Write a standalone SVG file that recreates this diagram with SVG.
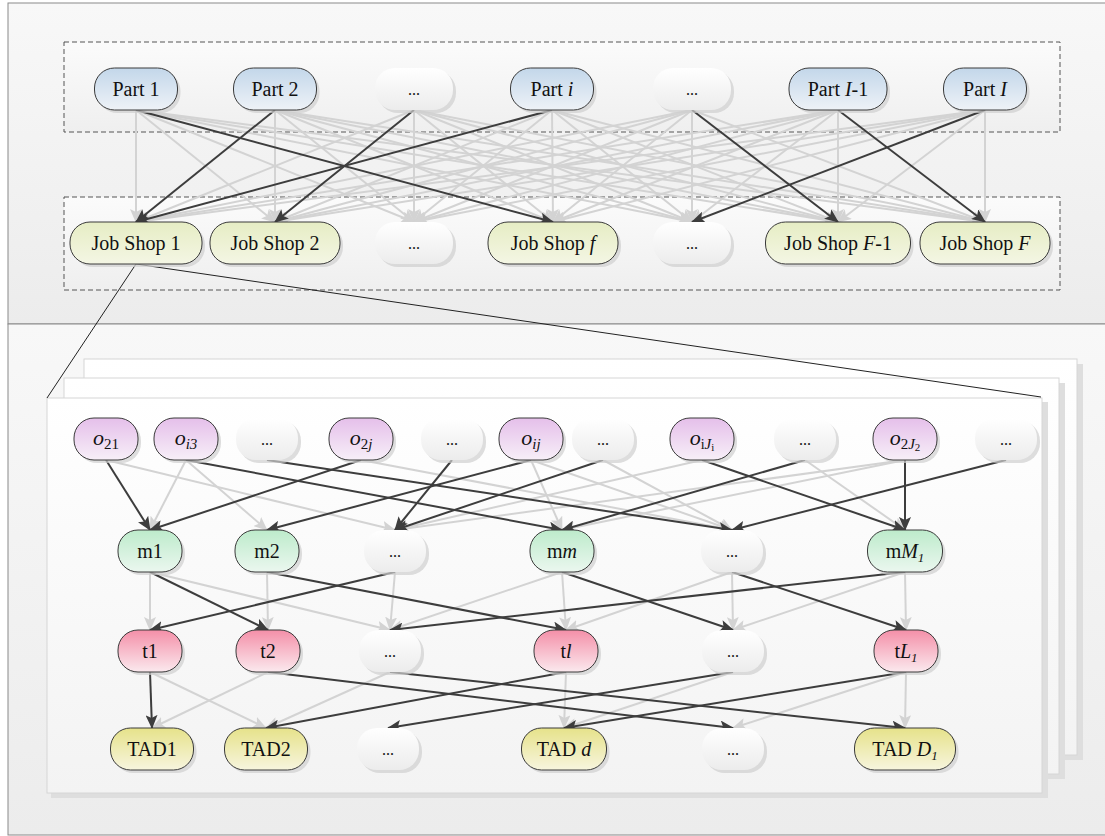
<svg xmlns="http://www.w3.org/2000/svg" width="1105" height="836" viewBox="0 0 1105 836">
<style>
text{font-family:"Liberation Serif","Times New Roman",serif;font-size:20px;fill:#111;text-anchor:middle}
.it{font-style:italic}
.dots{font-size:16px}
.sh{fill:#cfcfcf;opacity:.7}
.nb{stroke:#3a3a3a;stroke-width:1}
.part{fill:url(#gPart)}
.job{fill:url(#gJob)}
.op{fill:url(#gO)}
.mach{fill:url(#gM)}
.tool{fill:url(#gT)}
.tad{fill:url(#gTAD)}
.blank{fill:url(#gBlank)}
.g{stroke:#d3d3d3;stroke-width:2;fill:none;marker-end:url(#ahg)}
.d{stroke:#3d3d3d;stroke-width:2;fill:none;marker-end:url(#ahd)}
.dash{fill:url(#gBox);stroke:#555;stroke-width:1;stroke-dasharray:5 3}
.card{fill:url(#gCard);stroke:#d6d6d6;stroke-width:1}
.cardsh{fill:#dedede}
.zoom{stroke:#222;stroke-width:1;fill:none}
</style>
<defs>
<linearGradient id="gPart" x1="0" y1="0" x2="0" y2="1"><stop offset="0" stop-color="#c3d7ea"/><stop offset="1" stop-color="#eef2f7"/></linearGradient>
<linearGradient id="gJob" x1="0" y1="0" x2="0" y2="1"><stop offset="0" stop-color="#e6edc4"/><stop offset="1" stop-color="#f4f6e4"/></linearGradient>
<linearGradient id="gO" x1="0" y1="0" x2="0" y2="1"><stop offset="0" stop-color="#e5bfea"/><stop offset="1" stop-color="#f7eff8"/></linearGradient>
<linearGradient id="gM" x1="0" y1="0" x2="0" y2="1"><stop offset="0" stop-color="#bdebcb"/><stop offset="1" stop-color="#ebf7ef"/></linearGradient>
<linearGradient id="gT" x1="0" y1="0" x2="0" y2="1"><stop offset="0" stop-color="#f48fa8"/><stop offset="1" stop-color="#fbe9ee"/></linearGradient>
<linearGradient id="gTAD" x1="0" y1="0" x2="0" y2="1"><stop offset="0" stop-color="#e6e28a"/><stop offset="1" stop-color="#f7f5de"/></linearGradient>
<linearGradient id="gBlank" x1="0" y1="0" x2="0" y2="1"><stop offset="0" stop-color="#ffffff"/><stop offset="1" stop-color="#ececec"/></linearGradient>
<linearGradient id="gBox" x1="0" y1="0" x2="0" y2="1"><stop offset="0" stop-color="#fbfbfb"/><stop offset="1" stop-color="#efefef"/></linearGradient>
<linearGradient id="gPanel" x1="0" y1="0" x2="0" y2="1"><stop offset="0" stop-color="#f8f8f8"/><stop offset="1" stop-color="#ececec"/></linearGradient>
<linearGradient id="gCard" x1="0" y1="0" x2="0" y2="1"><stop offset="0" stop-color="#ffffff"/><stop offset="1" stop-color="#f3f3f3"/></linearGradient>
<marker id="ahd" viewBox="0 0 14 12" refX="13" refY="6" markerWidth="14" markerHeight="12" markerUnits="userSpaceOnUse" orient="auto"><path d="M0,0 L14,6 L0,12 L3,6 z" fill="#3d3d3d"/></marker>
<marker id="ahg" viewBox="0 0 14 12" refX="13" refY="6" markerWidth="14" markerHeight="12" markerUnits="userSpaceOnUse" orient="auto"><path d="M0,0 L14,6 L0,12 L3,6 z" fill="#d3d3d3"/></marker>
</defs>

<g id="panels">
<rect x="8" y="3" width="1110" height="321" fill="url(#gPanel)" stroke="#8a8a8a"/>
<rect x="8" y="324" width="1110" height="511" fill="url(#gPanel)" stroke="#8a8a8a"/>
<rect class="dash" x="64" y="42" width="996" height="90"/>
<rect class="dash" x="64" y="197" width="996" height="93"/>
</g>

<g id="cards">
<rect class="cardsh" x="89" y="364" width="994" height="396"/>
<rect class="card" x="84" y="359" width="993" height="396"/>
<rect class="cardsh" x="69" y="383" width="996" height="396"/>
<rect class="card" x="64" y="378" width="995" height="396"/>
<rect class="cardsh" x="51" y="402" width="997" height="396"/>
<rect class="card" x="47" y="398" width="995" height="395"/>
</g>

<g id="zoom-lines">
<line class="zoom" x1="136" y1="264" x2="47" y2="398"/>
<line class="zoom" x1="136" y1="264" x2="1041" y2="397"/>
</g>

<g id="connectors">
<!-- top: gray all-to-all -->
<line class="g" x1="136" y1="110" x2="136" y2="222"/>
<line class="g" x1="136" y1="110" x2="275" y2="222"/>
<line class="g" x1="136" y1="110" x2="414" y2="222"/>
<line class="g" x1="136" y1="110" x2="692" y2="222"/>
<line class="g" x1="136" y1="110" x2="838" y2="222"/>
<line class="g" x1="136" y1="110" x2="985" y2="222"/>
<line class="g" x1="275" y1="110" x2="275" y2="222"/>
<line class="g" x1="275" y1="110" x2="414" y2="222"/>
<line class="g" x1="275" y1="110" x2="553" y2="222"/>
<line class="g" x1="275" y1="110" x2="692" y2="222"/>
<line class="g" x1="275" y1="110" x2="838" y2="222"/>
<line class="g" x1="275" y1="110" x2="985" y2="222"/>
<line class="g" x1="414" y1="110" x2="136" y2="222"/>
<line class="g" x1="414" y1="110" x2="414" y2="222"/>
<line class="g" x1="414" y1="110" x2="553" y2="222"/>
<line class="g" x1="414" y1="110" x2="692" y2="222"/>
<line class="g" x1="414" y1="110" x2="838" y2="222"/>
<line class="g" x1="414" y1="110" x2="985" y2="222"/>
<line class="g" x1="552" y1="110" x2="275" y2="222"/>
<line class="g" x1="552" y1="110" x2="414" y2="222"/>
<line class="g" x1="552" y1="110" x2="553" y2="222"/>
<line class="g" x1="552" y1="110" x2="692" y2="222"/>
<line class="g" x1="552" y1="110" x2="838" y2="222"/>
<line class="g" x1="552" y1="110" x2="985" y2="222"/>
<line class="g" x1="692" y1="110" x2="136" y2="222"/>
<line class="g" x1="692" y1="110" x2="275" y2="222"/>
<line class="g" x1="692" y1="110" x2="414" y2="222"/>
<line class="g" x1="692" y1="110" x2="553" y2="222"/>
<line class="g" x1="692" y1="110" x2="692" y2="222"/>
<line class="g" x1="692" y1="110" x2="985" y2="222"/>
<line class="g" x1="838" y1="110" x2="136" y2="222"/>
<line class="g" x1="838" y1="110" x2="275" y2="222"/>
<line class="g" x1="838" y1="110" x2="414" y2="222"/>
<line class="g" x1="838" y1="110" x2="553" y2="222"/>
<line class="g" x1="838" y1="110" x2="692" y2="222"/>
<line class="g" x1="838" y1="110" x2="838" y2="222"/>
<line class="g" x1="985" y1="110" x2="136" y2="222"/>
<line class="g" x1="985" y1="110" x2="275" y2="222"/>
<line class="g" x1="985" y1="110" x2="414" y2="222"/>
<line class="g" x1="985" y1="110" x2="553" y2="222"/>
<line class="g" x1="985" y1="110" x2="838" y2="222"/>
<line class="g" x1="985" y1="110" x2="985" y2="222"/>
<!-- lower gray -->
<line class="g" x1="106" y1="460" x2="395" y2="530"/>
<line class="g" x1="186" y1="460" x2="150" y2="530"/>
<line class="g" x1="186" y1="460" x2="267" y2="530"/>
<line class="g" x1="361" y1="460" x2="732" y2="530"/>
<line class="g" x1="531" y1="460" x2="562" y2="530"/>
<line class="g" x1="531" y1="460" x2="732" y2="530"/>
<line class="g" x1="603" y1="460" x2="732" y2="530"/>
<line class="g" x1="702" y1="460" x2="395" y2="530"/>
<line class="g" x1="805" y1="460" x2="905" y2="530"/>
<line class="g" x1="905" y1="460" x2="395" y2="530"/>
<line class="g" x1="905" y1="460" x2="562" y2="530"/>
<line class="g" x1="150" y1="572" x2="150" y2="630"/>
<line class="g" x1="150" y1="572" x2="390" y2="630"/>
<line class="g" x1="267" y1="572" x2="268" y2="630"/>
<line class="g" x1="395" y1="572" x2="390" y2="630"/>
<line class="g" x1="562" y1="572" x2="566" y2="630"/>
<line class="g" x1="562" y1="572" x2="390" y2="630"/>
<line class="g" x1="732" y1="572" x2="733" y2="630"/>
<line class="g" x1="732" y1="572" x2="566" y2="630"/>
<line class="g" x1="905" y1="572" x2="906" y2="630"/>
<line class="g" x1="905" y1="572" x2="733" y2="630"/>
<line class="g" x1="150" y1="672" x2="266" y2="728"/>
<line class="g" x1="268" y1="672" x2="152" y2="728"/>
<line class="g" x1="390" y1="672" x2="266" y2="728"/>
<line class="g" x1="566" y1="672" x2="564" y2="728"/>
<line class="g" x1="733" y1="672" x2="564" y2="728"/>
<line class="g" x1="906" y1="672" x2="905" y2="728"/>
<line class="g" x1="906" y1="672" x2="733" y2="728"/>
<!-- dark top -->
<line class="d" x1="136" y1="110" x2="553" y2="222"/>
<line class="d" x1="275" y1="110" x2="136" y2="222"/>
<line class="d" x1="414" y1="110" x2="275" y2="222"/>
<line class="d" x1="552" y1="110" x2="136" y2="222"/>
<line class="d" x1="692" y1="110" x2="838" y2="222"/>
<line class="d" x1="838" y1="110" x2="985" y2="222"/>
<line class="d" x1="985" y1="110" x2="692" y2="222"/>
<!-- dark o->m -->
<line class="d" x1="106" y1="460" x2="150" y2="530"/>
<line class="d" x1="361" y1="460" x2="150" y2="530"/>
<line class="d" x1="531" y1="460" x2="267" y2="530"/>
<line class="d" x1="452" y1="460" x2="395" y2="530"/>
<line class="d" x1="603" y1="460" x2="395" y2="530"/>
<line class="d" x1="186" y1="460" x2="562" y2="530"/>
<line class="d" x1="805" y1="460" x2="562" y2="530"/>
<line class="d" x1="267" y1="460" x2="732" y2="530"/>
<line class="d" x1="1006" y1="460" x2="732" y2="530"/>
<line class="d" x1="702" y1="460" x2="905" y2="530"/>
<line class="d" x1="905" y1="460" x2="905" y2="530"/>
<!-- dark m->t -->
<line class="d" x1="150" y1="572" x2="268" y2="630"/>
<line class="d" x1="395" y1="572" x2="150" y2="630"/>
<line class="d" x1="267" y1="572" x2="566" y2="630"/>
<line class="d" x1="562" y1="572" x2="733" y2="630"/>
<line class="d" x1="905" y1="572" x2="390" y2="630"/>
<line class="d" x1="732" y1="572" x2="906" y2="630"/>
<!-- dark t->TAD -->
<line class="d" x1="150" y1="672" x2="152" y2="728"/>
<line class="d" x1="268" y1="672" x2="733" y2="728"/>
<line class="d" x1="390" y1="672" x2="905" y2="728"/>
<line class="d" x1="566" y1="672" x2="266" y2="728"/>
<line class="d" x1="733" y1="672" x2="388" y2="728"/>
<line class="d" x1="906" y1="672" x2="564" y2="728"/>
</g>

<!-- top row: parts -->
<g id="part1"><rect class="sh" x="97.5" y="71" width="83" height="42" rx="20"/><rect class="nb part" x="94.5" y="68" width="83" height="42" rx="20"/><text x="136" y="96">Part 1</text></g>
<g id="part2"><rect class="sh" x="236.5" y="71" width="83" height="42" rx="20"/><rect class="nb part" x="233.5" y="68" width="83" height="42" rx="20"/><text x="275" y="96">Part 2</text></g>
<g id="part-dots1"><rect class="sh" x="378" y="71" width="78" height="42" rx="20"/><rect class="blank" x="375" y="68" width="78" height="42" rx="20"/><text class="dots" x="414" y="95">...</text></g>
<g id="part-i"><rect class="sh" x="513.5" y="71" width="83" height="42" rx="20"/><rect class="nb part" x="510.5" y="68" width="83" height="42" rx="20"/><text x="552" y="96">Part <tspan class="it">i</tspan></text></g>
<g id="part-dots2"><rect class="sh" x="656" y="71" width="78" height="42" rx="20"/><rect class="blank" x="653" y="68" width="78" height="42" rx="20"/><text class="dots" x="692" y="95">...</text></g>
<g id="part-I-1"><rect class="sh" x="792" y="71" width="98" height="42" rx="20"/><rect class="nb part" x="789" y="68" width="98" height="42" rx="20"/><text x="838" y="96">Part <tspan class="it">I</tspan>-1</text></g>
<g id="part-I"><rect class="sh" x="946.5" y="71" width="83" height="42" rx="20"/><rect class="nb part" x="943.5" y="68" width="83" height="42" rx="20"/><text x="985" y="96">Part <tspan class="it">I</tspan></text></g>

<!-- job shops -->
<g id="js1"><rect class="sh" x="73" y="225" width="132" height="42" rx="20"/><rect class="nb job" x="70" y="222" width="132" height="42" rx="20"/><text x="136" y="250">Job Shop 1</text></g>
<g id="js2"><rect class="sh" x="213" y="225" width="130" height="42" rx="20"/><rect class="nb job" x="210" y="222" width="130" height="42" rx="20"/><text x="275" y="250">Job Shop 2</text></g>
<g id="js-dots1"><rect class="sh" x="378" y="225" width="78" height="42" rx="20"/><rect class="blank" x="375" y="222" width="78" height="42" rx="20"/><text class="dots" x="414" y="249">...</text></g>
<g id="js-f"><rect class="sh" x="491" y="225" width="130" height="42" rx="20"/><rect class="nb job" x="488" y="222" width="130" height="42" rx="20"/><text x="553" y="250">Job Shop <tspan class="it">f</tspan></text></g>
<g id="js-dots2"><rect class="sh" x="656" y="225" width="78" height="42" rx="20"/><rect class="blank" x="653" y="222" width="78" height="42" rx="20"/><text class="dots" x="692" y="249">...</text></g>
<g id="js-F-1"><rect class="sh" x="768.5" y="225" width="145" height="42" rx="20"/><rect class="nb job" x="765.5" y="222" width="145" height="42" rx="20"/><text x="838" y="250">Job Shop <tspan class="it">F</tspan>-1</text></g>
<g id="js-F"><rect class="sh" x="923" y="225" width="130" height="42" rx="20"/><rect class="nb job" x="920" y="222" width="130" height="42" rx="20"/><text x="985" y="250">Job Shop <tspan class="it">F</tspan></text></g>

<!-- operations -->
<g id="o21"><rect class="sh" x="77" y="421" width="64" height="42" rx="20"/><rect class="nb op" x="74" y="418" width="64" height="42" rx="20"/><text x="106" y="445"><tspan class="it" font-size="22">o</tspan><tspan font-size="15" dy="4">21</tspan></text></g>
<g id="oi3"><rect class="sh" x="157" y="421" width="64" height="42" rx="20"/><rect class="nb op" x="154" y="418" width="64" height="42" rx="20"/><text x="186" y="445"><tspan class="it" font-size="22">o</tspan><tspan class="it" font-size="15" dy="4">i3</tspan></text></g>
<g id="o-dots1"><rect class="sh" x="239" y="421" width="62" height="42" rx="20"/><rect class="blank" x="236" y="418" width="62" height="42" rx="20"/><text class="dots" x="267" y="445">...</text></g>
<g id="o2j"><rect class="sh" x="332" y="421" width="64" height="42" rx="20"/><rect class="nb op" x="329" y="418" width="64" height="42" rx="20"/><text x="361" y="445"><tspan class="it" font-size="22">o</tspan><tspan font-size="15" dy="4">2</tspan><tspan class="it" font-size="15">j</tspan></text></g>
<g id="o-dots2"><rect class="sh" x="424" y="421" width="62" height="42" rx="20"/><rect class="blank" x="421" y="418" width="62" height="42" rx="20"/><text class="dots" x="452" y="445">...</text></g>
<g id="oij"><rect class="sh" x="502" y="421" width="64" height="42" rx="20"/><rect class="nb op" x="499" y="418" width="64" height="42" rx="20"/><text x="531" y="445"><tspan class="it" font-size="22">o</tspan><tspan class="it" font-size="15" dy="4">ij</tspan></text></g>
<g id="o-dots3"><rect class="sh" x="575" y="421" width="62" height="42" rx="20"/><rect class="blank" x="572" y="418" width="62" height="42" rx="20"/><text class="dots" x="603" y="445">...</text></g>
<g id="oiJi"><rect class="sh" x="673" y="421" width="64" height="42" rx="20"/><rect class="nb op" x="670" y="418" width="64" height="42" rx="20"/><text x="702" y="445"><tspan class="it" font-size="22">o</tspan><tspan font-size="14" dy="4">i</tspan><tspan class="it" font-size="15">J</tspan><tspan font-size="11" dy="2">i</tspan></text></g>
<g id="o-dots4"><rect class="sh" x="777" y="421" width="62" height="42" rx="20"/><rect class="blank" x="774" y="418" width="62" height="42" rx="20"/><text class="dots" x="805" y="445">...</text></g>
<g id="o2J2"><rect class="sh" x="876" y="421" width="64" height="42" rx="20"/><rect class="nb op" x="873" y="418" width="64" height="42" rx="20"/><text x="905" y="445"><tspan class="it" font-size="22">o</tspan><tspan font-size="15" dy="4">2</tspan><tspan class="it" font-size="15">J</tspan><tspan font-size="11" dy="2">2</tspan></text></g>
<g id="o-dots5"><rect class="sh" x="978" y="421" width="62" height="42" rx="20"/><rect class="blank" x="975" y="418" width="62" height="42" rx="20"/><text class="dots" x="1006" y="445">...</text></g>

<!-- machines -->
<g id="m1"><rect class="sh" x="121" y="533" width="64" height="42" rx="20"/><rect class="nb mach" x="118" y="530" width="64" height="42" rx="20"/><text x="150" y="558">m1</text></g>
<g id="m2"><rect class="sh" x="238" y="533" width="64" height="42" rx="20"/><rect class="nb mach" x="235" y="530" width="64" height="42" rx="20"/><text x="267" y="558">m2</text></g>
<g id="m-dots1"><rect class="sh" x="367" y="533" width="62" height="42" rx="20"/><rect class="blank" x="364" y="530" width="62" height="42" rx="20"/><text class="dots" x="395" y="557">...</text></g>
<g id="mm"><rect class="sh" x="533" y="533" width="64" height="42" rx="20"/><rect class="nb mach" x="530" y="530" width="64" height="42" rx="20"/><text x="562" y="558">m<tspan class="it">m</tspan></text></g>
<g id="m-dots2"><rect class="sh" x="704" y="533" width="62" height="42" rx="20"/><rect class="blank" x="701" y="530" width="62" height="42" rx="20"/><text class="dots" x="732" y="557">...</text></g>
<g id="mM1"><rect class="sh" x="870.5" y="533" width="75" height="42" rx="20"/><rect class="nb mach" x="867.5" y="530" width="75" height="42" rx="20"/><text x="905" y="558">m<tspan class="it">M</tspan><tspan class="it" font-size="13" dy="4">1</tspan></text></g>

<!-- tools -->
<g id="t1"><rect class="sh" x="121" y="633" width="64" height="42" rx="20"/><rect class="nb tool" x="118" y="630" width="64" height="42" rx="20"/><text x="150" y="658">t1</text></g>
<g id="t2"><rect class="sh" x="239" y="633" width="64" height="42" rx="20"/><rect class="nb tool" x="236" y="630" width="64" height="42" rx="20"/><text x="268" y="658">t2</text></g>
<g id="t-dots1"><rect class="sh" x="362" y="633" width="62" height="42" rx="20"/><rect class="blank" x="359" y="630" width="62" height="42" rx="20"/><text class="dots" x="390" y="657">...</text></g>
<g id="tl"><rect class="sh" x="537" y="633" width="64" height="42" rx="20"/><rect class="nb tool" x="534" y="630" width="64" height="42" rx="20"/><text x="566" y="658">t<tspan class="it">l</tspan></text></g>
<g id="t-dots2"><rect class="sh" x="705" y="633" width="62" height="42" rx="20"/><rect class="blank" x="702" y="630" width="62" height="42" rx="20"/><text class="dots" x="733" y="657">...</text></g>
<g id="tL1"><rect class="sh" x="877" y="633" width="64" height="42" rx="20"/><rect class="nb tool" x="874" y="630" width="64" height="42" rx="20"/><text x="906" y="658">t<tspan class="it">L</tspan><tspan class="it" font-size="13" dy="4">1</tspan></text></g>

<!-- TADs -->
<g id="tad1"><rect class="sh" x="113.5" y="731" width="83" height="42" rx="20"/><rect class="nb tad" x="110.5" y="728" width="83" height="42" rx="20"/><text x="152" y="756">TAD1</text></g>
<g id="tad2"><rect class="sh" x="227.5" y="731" width="83" height="42" rx="20"/><rect class="nb tad" x="224.5" y="728" width="83" height="42" rx="20"/><text x="266" y="756">TAD2</text></g>
<g id="tad-dots1"><rect class="sh" x="360" y="731" width="62" height="42" rx="20"/><rect class="blank" x="357" y="728" width="62" height="42" rx="20"/><text class="dots" x="388" y="755">...</text></g>
<g id="tad-d"><rect class="sh" x="524.5" y="731" width="85" height="42" rx="20"/><rect class="nb tad" x="521.5" y="728" width="85" height="42" rx="20"/><text x="564" y="756">TAD <tspan class="it">d</tspan></text></g>
<g id="tad-dots2"><rect class="sh" x="705" y="731" width="62" height="42" rx="20"/><rect class="blank" x="702" y="728" width="62" height="42" rx="20"/><text class="dots" x="733" y="755">...</text></g>
<g id="tad-D1"><rect class="sh" x="857.5" y="731" width="101" height="42" rx="20"/><rect class="nb tad" x="854.5" y="728" width="101" height="42" rx="20"/><text x="905" y="756">TAD <tspan class="it">D</tspan><tspan class="it" font-size="13" dy="4">1</tspan></text></g>
</svg>
